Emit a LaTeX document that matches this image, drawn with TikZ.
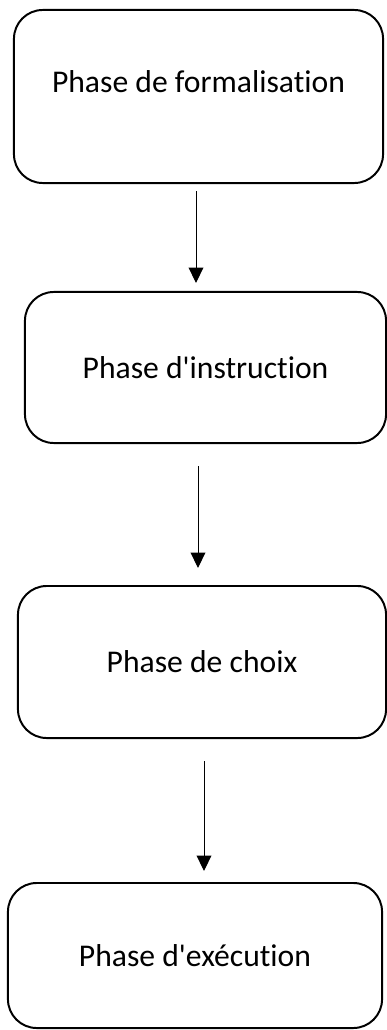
\documentclass[tikz,border=0pt]{standalone}
\usepackage{fontspec}
\setmainfont{Carlito}[Ligatures={TeXOff,NoCommon}]
\usetikzlibrary{calc,arrows.meta}

\tikzset{
  phase/.style={draw, line width=1.4pt, rounded corners=0.72cm, align=center,
    font=\fontsize{22.5}{27}\selectfont},
  flow/.style={line width=0.7pt, -{Triangle[length=11pt,width=10.5pt]}}
}

\begin{document}
\begin{tikzpicture}[x=0.025cm, y=-0.025cm]

\useasboundingbox (0, 0) rectangle (387, 1030);

\node (formal) at (198.5, 96.5) [phase, minimum width=9.225cm, minimum height=4.325cm, text depth=21pt] {Phase de formalisation};

\node (instr) at (205.5, 367.5) [phase, minimum width=9.025cm, minimum height=3.775cm] {Phase d'instruction};

\node (choice) at (202, 662) [phase, minimum width=9.2cm, minimum height=3.8cm] {Phase de choix};

\node (exec) at (195, 955.5) [phase, minimum width=9.35cm, minimum height=3.625cm] {Phase d'exécution};

\draw[flow] ($(formal.south)+(-2.5, 7)$) -- ($(instr.north)+(-9.5, -8)$);
\draw[flow] ($(instr.south)+(-7.5, 22)$) -- ($(choice.north)+(-4, -17)$);
\draw[flow] ($(choice.south)+(2, 22)$) -- ($(exec.north)+(9, -11)$);

\end{tikzpicture}
\end{document}
